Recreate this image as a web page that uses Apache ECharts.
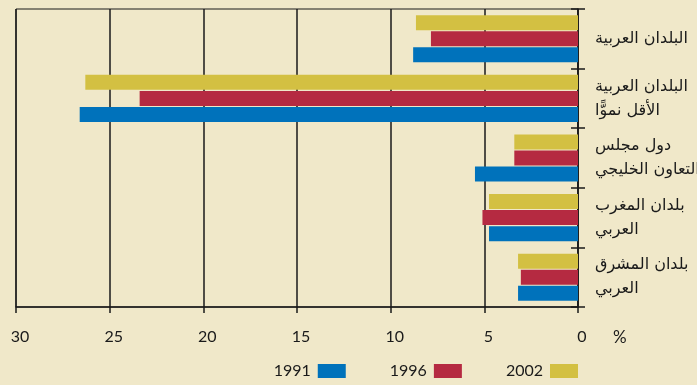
<!DOCTYPE html>
<html>
<head>
<meta charset="utf-8">
<script src="https://cdn.jsdelivr.net/npm/echarts@6/dist/echarts.min.js"></script>
<style>
  html, body { margin: 0; padding: 0; background: #f0e8c9; }
  #chart { width: 697px; height: 385px; }
</style>
</head>
<body>
<div id="chart"></div>
<script>
// Regions, listed top to bottom
const categories = [
  'البلدان العربية',
  'البلدان العربية\nالأقل نموًّا',
  'دول مجلس\nالتعاون الخليجي',
  'بلدان المغرب\nالعربي',
  'بلدان المشرق\nالعربي'
];
const years = ['1991', '1996', '2002'];
const values1991 = [8.8, 26.6, 5.5, 4.75, 3.2];
const values1996 = [7.85, 23.4, 3.4, 5.1, 3.05];
const values2002 = [8.65, 26.3, 3.4, 4.75, 3.2];
const xTicks = { min: 0, max: 30, step: 5 };

const colors = { '1991': '#0072bb', '1996': '#b52a41', '2002': '#d3c042' };
const ink = '#1a1a1a';
const numFont = 'Lato';
const arFont = 'DejaVu Sans';

const chart = echarts.init(document.getElementById('chart'), null, { renderer: 'canvas' });

function barSeries(name, data) {
  return {
    name: name,
    type: 'bar',
    data: data,
    yAxisIndex: 0,
    barWidth: 15,
    barGap: '7%',
    itemStyle: { color: colors[name] },
    emphasis: { disabled: true }
  };
}

chart.setOption({
  backgroundColor: '#f0e8c9',
  animation: false,
  grid: {
    left: 16, right: 119, top: 9, bottom: 78,
    outerBoundsMode: 'none',
    containLabel: false,
    show: true, borderColor: ink, borderWidth: 1, backgroundColor: 'transparent'
  },
  legend: {
    data: years,
    bottom: 6,
    right: 119,
    padding: 0,
    align: 'right',
    itemWidth: 28,
    itemHeight: 14,
    itemGap: 44,
    icon: 'rect',
    textStyle: { fontFamily: numFont, fontSize: 16, color: ink, padding: [0, 2, 0, 0] }
  },
  xAxis: {
    type: 'value',
    inverse: true,
    min: xTicks.min,
    max: xTicks.max,
    interval: xTicks.step,
    name: '%',
    nameLocation: 'start',
    nameGap: 35,
    nameTextStyle: { fontFamily: numFont, fontSize: 17, color: ink, verticalAlign: 'top', padding: [22, 0, 0, 0] },
    axisLine: { show: true, lineStyle: { color: ink, width: 1.5 } },
    axisTick: { show: true, length: 6, lineStyle: { color: ink, width: 1.5 } },
    axisLabel: { margin: 22, fontFamily: numFont, fontSize: 16, color: ink, padding: [0, 0, 0, 8] },
    splitLine: { show: true, lineStyle: { color: ink, width: 1.5 } }
  },
  yAxis: [
    {
      type: 'category',
      data: categories,
      inverse: true,
      position: 'right',
      axisLine: { show: true, lineStyle: { color: ink, width: 1.5 } },
      axisTick: { show: true, length: 7, lineStyle: { color: ink, width: 1.5 } },
      axisLabel: {
        margin: 17,
        align: 'left',
        fontFamily: arFont,
        fontSize: 16,
        lineHeight: 24,
        color: ink,
        padding: [3, 0, 0, 0]
      }
    },
    {
      // inner half of the crossing ticks on the right axis
      type: 'category',
      data: categories,
      inverse: true,
      position: 'right',
      axisLine: { show: false },
      axisTick: { show: true, inside: true, length: 7, lineStyle: { color: ink, width: 1.5 } },
      axisLabel: { show: false },
      splitLine: { show: false }
    }
  ],
  series: [
    barSeries('2002', values2002),
    barSeries('1996', values1996),
    barSeries('1991', values1991)
  ]
});
</script>
</body>
</html>
